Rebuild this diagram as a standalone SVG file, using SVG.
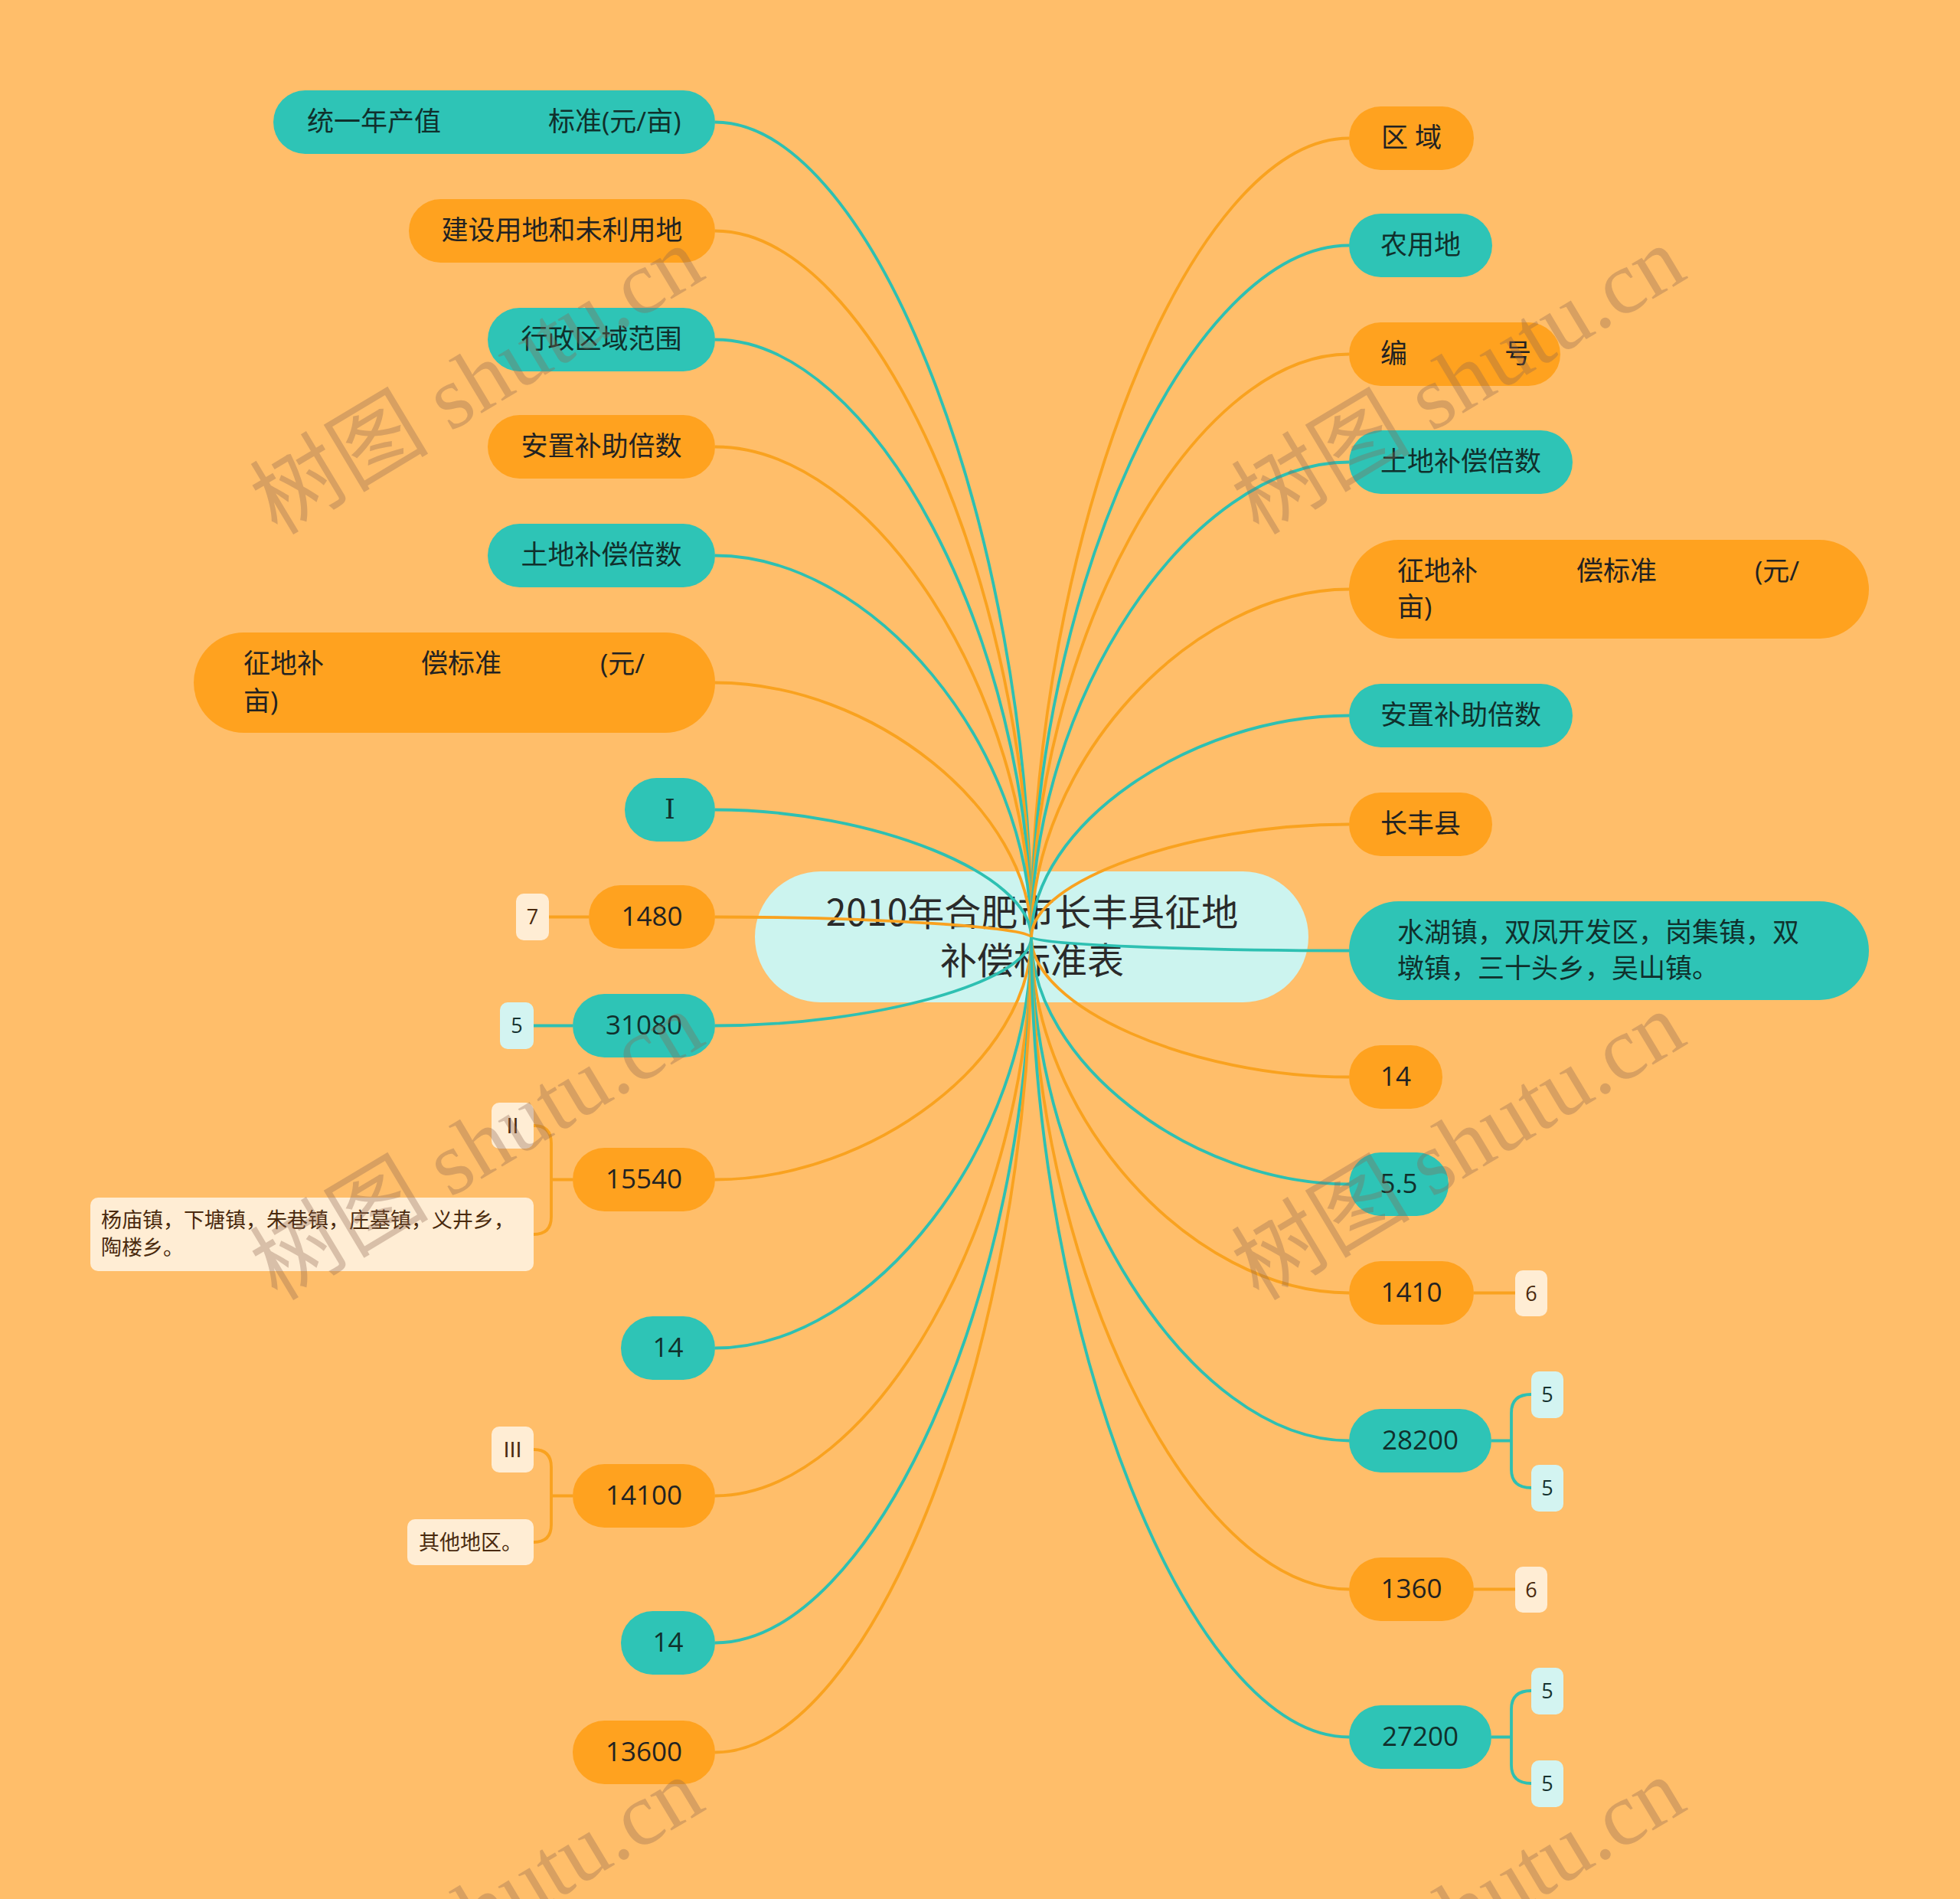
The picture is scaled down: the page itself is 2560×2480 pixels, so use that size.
<svg xmlns="http://www.w3.org/2000/svg" width="2560" height="2480" viewBox="0 0 2560 2480">
<style>
.bg{fill:#FFBE6A}
.o{fill:#FFA21F}
.t{fill:#2EC4B6}
.lo{fill:#FFEDD4}
.lt{fill:#D3F4F1}
.ctr{fill:#CCF4EF}
.tx{font-family:"Open Sans","Noto Sans CJK SC",sans-serif;font-size:35px;fill:#222}
.tt{fill:#10302c}
.mid{text-anchor:middle}
.rn{font-family:"DejaVu Serif","Liberation Serif",serif}
.sm{font-family:"Open Sans","Noto Sans CJK SC",sans-serif;font-size:27px;fill:#4a2a0e}
.smt{fill:#163330}
.title{font-family:"Noto Sans CJK SC",sans-serif;font-size:48px;fill:#2a2a2a;text-anchor:middle}
.co{fill:none;stroke:#F9A21F;stroke-width:3.8}
.ct{fill:none;stroke:#2EC0B2;stroke-width:3.8}
.wm{font-family:"Liberation Serif","Noto Sans CJK SC",serif;font-size:117px;fill:#8C6450;opacity:0.33}
</style>
<rect class="bg" x="0" y="0" width="2560" height="2480"/>

<g id="center">
<rect class="ctr" x="986" y="1138" width="723" height="171" rx="85.5"/>
<text class="title" x="1348" y="1209">2010年合肥市长丰县征地</text>
<text class="title" x="1348" y="1272">补偿标准表</text>
</g>

<g id="connectors">
<path class="ct" d="M1347 1224 C1347 692 1140 159.5 934 159.5"/>
<path class="co" d="M1347 1224 C1347 763 1140 301.5 934 301.5"/>
<path class="ct" d="M1347 1224 C1347 834 1140 443.5 934 443.5"/>
<path class="co" d="M1347 1224 C1347 904 1140 583.5 934 583.5"/>
<path class="ct" d="M1347 1224 C1347 975 1140 725.5 934 725.5"/>
<path class="co" d="M1347 1224 C1347 1058 1140 891.5 934 891.5"/>
<path class="ct" d="M1347 1224 C1347 1141 1140 1057.5 934 1057.5"/>
<path class="co" d="M1347 1224 C1347 1211 1140 1197.5 934 1197.5"/>
<path class="ct" d="M1347 1224 C1347 1282 1140 1339.5 934 1339.5"/>
<path class="co" d="M1347 1224 C1347 1382 1140 1540.5 934 1540.5"/>
<path class="ct" d="M1347 1224 C1347 1492 1140 1760.5 934 1760.5"/>
<path class="co" d="M1347 1224 C1347 1589 1140 1953.5 934 1953.5"/>
<path class="ct" d="M1347 1224 C1347 1685 1140 2145.5 934 2145.5"/>
<path class="co" d="M1347 1224 C1347 1756 1140 2288.5 934 2288.5"/>

<path class="co" d="M1347 1224 C1347 702 1555 180.5 1762 180.5"/>
<path class="ct" d="M1347 1224 C1347 772 1555 320.5 1762 320.5"/>
<path class="co" d="M1347 1224 C1347 843 1555 462.5 1762 462.5"/>
<path class="ct" d="M1347 1224 C1347 914 1555 603.5 1762 603.5"/>
<path class="co" d="M1347 1224 C1347 997 1555 769.5 1762 769.5"/>
<path class="ct" d="M1347 1224 C1347 1079 1555 934.5 1762 934.5"/>
<path class="co" d="M1347 1224 C1347 1150 1555 1076.5 1762 1076.5"/>
<path class="ct" d="M1347 1224 C1347 1233 1555 1241.5 1762 1241.5"/>
<path class="co" d="M1347 1224 C1347 1315 1555 1406.5 1762 1406.5"/>
<path class="ct" d="M1347 1224 C1347 1385 1555 1546.5 1762 1546.5"/>
<path class="co" d="M1347 1224 C1347 1456 1555 1688.5 1762 1688.5"/>
<path class="ct" d="M1347 1224 C1347 1553 1555 1881.5 1762 1881.5"/>
<path class="co" d="M1347 1224 C1347 1650 1555 2075.5 1762 2075.5"/>
<path class="ct" d="M1347 1224 C1347 1746 1555 2268.5 1762 2268.5"/>

<path class="co" d="M769 1197.5 H717"/>
<path class="ct" d="M748 1339.5 H697"/>
<path class="co" d="M748 1540.5 H720 M697 1470 Q720 1470 720 1493 V1589 Q720 1612 697 1612"/>
<path class="co" d="M748 1953.5 H720 M697 1893 Q720 1893 720 1916 V1991 Q720 2014 697 2014"/>
<path class="co" d="M1925 1688.5 H1979"/>
<path class="ct" d="M1948 1881.5 H1974 M2000 1821 Q1974 1821 1974 1845 V1919 Q1974 1943 2000 1943"/>
<path class="co" d="M1925 2075.5 H1979"/>
<path class="ct" d="M1948 2268.5 H1974 M2000 2208 Q1974 2208 1974 2232 V2305 Q1974 2329 2000 2329"/>
</g>

<g id="n-l1"><rect class="t" x="357" y="118" width="577" height="83" rx="41.5"/><text class="tx tt" x="401" y="171">统一年产值</text><text class="tx tt" x="716" y="171">标准(元/亩)</text></g>
<g id="n-l2"><rect class="o" x="534" y="260" width="400" height="83" rx="41.5"/><text class="tx mid" x="734" y="313">建设用地和未利用地</text></g>
<g id="n-l3"><rect class="t" x="637" y="402" width="297" height="83" rx="41.5"/><text class="tx tt mid" x="785.5" y="455">行政区域范围</text></g>
<g id="n-l4"><rect class="o" x="637" y="542" width="297" height="83" rx="41.5"/><text class="tx mid" x="785.5" y="595">安置补助倍数</text></g>
<g id="n-l5"><rect class="t" x="637" y="684" width="297" height="83" rx="41.5"/><text class="tx tt mid" x="785.5" y="737">土地补偿倍数</text></g>
<g id="n-l6"><rect class="o" x="253" y="826" width="681" height="131" rx="65.5"/><text class="tx" x="318" y="879">征地补</text><text class="tx" x="550" y="879">偿标准</text><text class="tx" x="784" y="879">(元/</text><text class="tx" x="318" y="928">亩)</text></g>
<g id="n-l7"><rect class="t" x="816" y="1016" width="118" height="83" rx="41.5"/><text class="tx tt mid rn" x="875" y="1069">Ⅰ</text></g>
<g id="n-l8"><rect class="o" x="769" y="1156" width="165" height="83" rx="41.5"/><text class="tx mid" x="851.5" y="1209">1480</text>
<rect class="lo" x="674" y="1167" width="43" height="61" rx="10"/><text class="sm mid" x="695.5" y="1207">7</text></g>
<g id="n-l9"><rect class="t" x="748" y="1298" width="186" height="83" rx="41.5"/><text class="tx tt mid" x="841" y="1351">31080</text>
<rect class="lt" x="653" y="1309" width="44" height="61" rx="10"/><text class="sm smt mid" x="675" y="1349">5</text></g>
<g id="n-l10"><rect class="o" x="748" y="1499" width="186" height="83" rx="41.5"/><text class="tx mid" x="841" y="1552">15540</text>
<rect class="lo" x="642" y="1440" width="55" height="60" rx="10"/><text class="sm mid rn" x="669.5" y="1480">Ⅱ</text>
<rect class="lo" x="118" y="1564" width="579" height="96" rx="10"/><text class="sm" x="132" y="1603">杨庙镇，下塘镇，朱巷镇，庄墓镇，义井乡，</text><text class="sm" x="132" y="1639">陶楼乡。</text></g>
<g id="n-l11"><rect class="t" x="811" y="1719" width="123" height="83" rx="41.5"/><text class="tx tt mid" x="872.5" y="1772">14</text></g>
<g id="n-l12"><rect class="o" x="748" y="1912" width="186" height="83" rx="41.5"/><text class="tx mid" x="841" y="1965">14100</text>
<rect class="lo" x="642" y="1863" width="55" height="60" rx="10"/><text class="sm mid rn" x="669.5" y="1903">Ⅲ</text>
<rect class="lo" x="532" y="1984" width="165" height="60" rx="10"/><text class="sm mid" x="614.5" y="2024">其他地区。</text></g>
<g id="n-l13"><rect class="t" x="811" y="2104" width="123" height="83" rx="41.5"/><text class="tx tt mid" x="872.5" y="2157">14</text></g>
<g id="n-l14"><rect class="o" x="748" y="2247" width="186" height="83" rx="41.5"/><text class="tx mid" x="841" y="2300">13600</text></g>

<g id="n-r1"><rect class="o" x="1762" y="139" width="163" height="83" rx="41.5"/><text class="tx mid" x="1843.5" y="192">区 域</text></g>
<g id="n-r2"><rect class="t" x="1762" y="279" width="187" height="83" rx="41.5"/><text class="tx tt mid" x="1855.5" y="332">农用地</text></g>
<g id="n-r3"><rect class="o" x="1762" y="421" width="276" height="83" rx="41.5"/><text class="tx" x="1803" y="474">编</text><text class="tx" x="1965" y="474">号</text></g>
<g id="n-r4"><rect class="t" x="1762" y="562" width="292" height="83" rx="41.5"/><text class="tx tt mid" x="1908" y="615">土地补偿倍数</text></g>
<g id="n-r5"><rect class="o" x="1762" y="705" width="679" height="129" rx="64.5"/><text class="tx" x="1825" y="758">征地补</text><text class="tx" x="2059" y="758">偿标准</text><text class="tx" x="2292" y="758">(元/</text><text class="tx" x="1825" y="805">亩)</text></g>
<g id="n-r6"><rect class="t" x="1762" y="893" width="292" height="83" rx="41.5"/><text class="tx tt mid" x="1908" y="946">安置补助倍数</text></g>
<g id="n-r7"><rect class="o" x="1762" y="1035" width="187" height="83" rx="41.5"/><text class="tx mid" x="1855.5" y="1088">长丰县</text></g>
<g id="n-r8"><rect class="t" x="1762" y="1177" width="679" height="129" rx="64.5"/><text class="tx tt" x="1825" y="1230">水湖镇，双凤开发区，岗集镇，双</text><text class="tx tt" x="1825" y="1277">墩镇，三十头乡，吴山镇。</text></g>
<g id="n-r9"><rect class="o" x="1762" y="1365" width="122" height="83" rx="41.5"/><text class="tx mid" x="1823" y="1418">14</text></g>
<g id="n-r10"><rect class="t" x="1762" y="1505" width="130" height="83" rx="41.5"/><text class="tx tt mid" x="1827" y="1558">5.5</text></g>
<g id="n-r11"><rect class="o" x="1762" y="1647" width="163" height="83" rx="41.5"/><text class="tx mid" x="1843.5" y="1700">1410</text>
<rect class="lo" x="1979" y="1659" width="42" height="60" rx="10"/><text class="sm mid" x="2000" y="1699">6</text></g>
<g id="n-r12"><rect class="t" x="1762" y="1840" width="186" height="83" rx="41.5"/><text class="tx tt mid" x="1855" y="1893">28200</text>
<rect class="lt" x="2000" y="1791" width="42" height="61" rx="10"/><text class="sm smt mid" x="2021" y="1831">5</text>
<rect class="lt" x="2000" y="1913" width="42" height="61" rx="10"/><text class="sm smt mid" x="2021" y="1953">5</text></g>
<g id="n-r13"><rect class="o" x="1762" y="2034" width="163" height="83" rx="41.5"/><text class="tx mid" x="1843.5" y="2087">1360</text>
<rect class="lo" x="1979" y="2046" width="42" height="60" rx="10"/><text class="sm mid" x="2000" y="2086">6</text></g>
<g id="n-r14"><rect class="t" x="1762" y="2227" width="186" height="83" rx="41.5"/><text class="tx tt mid" x="1855" y="2280">27200</text>
<rect class="lt" x="2000" y="2178" width="42" height="61" rx="10"/><text class="sm smt mid" x="2021" y="2218">5</text>
<rect class="lt" x="2000" y="2299" width="42" height="61" rx="10"/><text class="sm smt mid" x="2021" y="2339">5</text></g>

<g id="watermark">
<text class="wm" transform="translate(362 700) rotate(-31)">树图 shutu.cn</text>
<text class="wm" transform="translate(1644 700) rotate(-31)">树图 shutu.cn</text>
<text class="wm" transform="translate(362 1700) rotate(-31)">树图 shutu.cn</text>
<text class="wm" transform="translate(1644 1700) rotate(-31)">树图 shutu.cn</text>
<text class="wm" transform="translate(362 2700) rotate(-31)">树图 shutu.cn</text>
<text class="wm" transform="translate(1644 2700) rotate(-31)">树图 shutu.cn</text>
</g>
</svg>
